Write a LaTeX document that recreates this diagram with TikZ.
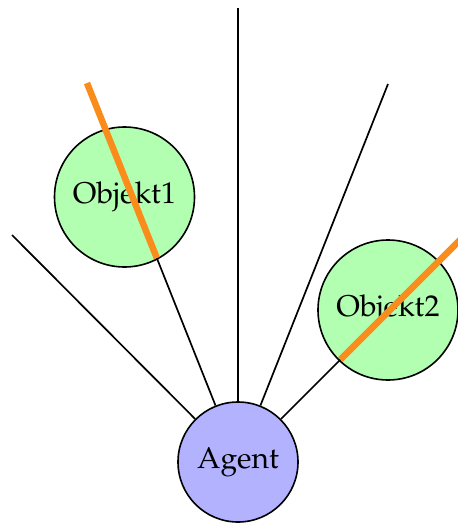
\documentclass[tikz,border=0pt]{standalone}
\usepackage[T1]{fontenc}
\usepackage{mathpazo}
\definecolor{rayorange}{RGB}{250,140,28}
\tikzset{
  ray/.style={line width=1.7pt, black},
  blocked/.style={line width=6.5pt, rayorange},
  body/.style={circle, draw=black, line width=1.6pt, inner sep=0pt,
               font=\fontsize{30}{36}\selectfont},
  agentbody/.style={body, fill=blue!30, minimum size=120pt},
  objbody/.style={body, fill=green!30, minimum size=140pt},
}
\begin{document}
\begin{tikzpicture}[x=1pt,y=-1pt]
  \useasboundingbox (0,0) rectangle (458,523);

  % bodies
  \node[agentbody] (agent) at (238,462) {Agent};
  \node[objbody] (o1) at (124.5,197) {Objekt1};
  \node[objbody] (o2) at (388,310) {Objekt2};

  % ray end points and hit points on the objects
  \coordinate (r1) at (12,235);
  \coordinate (h2) at (156.8,258);
  \coordinate (e2) at (87,83);
  \coordinate (r3) at (238,8);
  \coordinate (r4) at (388,84);
  \coordinate (h5) at (340.5,359.5);
  \coordinate (e5) at (464,236);

  % free rays
  \draw[ray] (agent) -- (r1);
  \draw[ray] (agent) -- (r3);
  \draw[ray] (agent) -- (r4);
  % rays up to the first hit
  \draw[ray] (agent) -- (h2);
  \draw[ray] (agent) -- (h5);

  % blocked part of the rays
  \draw[blocked] (h2) -- (e2);
  \draw[blocked] (h5) -- (e5);
\end{tikzpicture}
\end{document}
